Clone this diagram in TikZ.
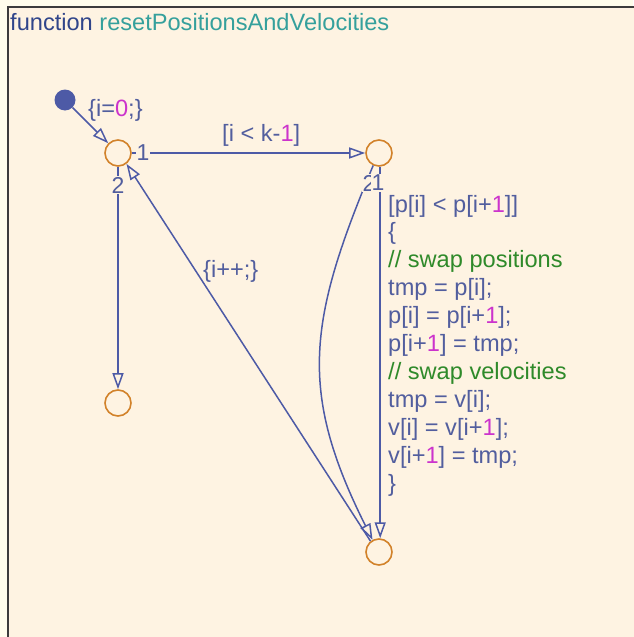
\documentclass[tikz,border=0pt]{standalone}
\usepackage{fontspec}
\setmainfont{Liberation Sans}
\usetikzlibrary{arrows.meta}
\definecolor{bgout}{HTML}{FFFDEC}
\definecolor{bgin}{HTML}{FEF3E2}
\definecolor{frame}{HTML}{3C3C3C}
\definecolor{navy}{HTML}{4D5AA6}
\definecolor{navytext}{HTML}{525E9E}
\definecolor{titlenavy}{HTML}{30458A}
\definecolor{teal}{HTML}{35A09C}
\definecolor{mag}{HTML}{CC33CC}
\definecolor{grn}{HTML}{2F8A2A}
\definecolor{orng}{HTML}{D2822A}
\newcommand\magn[1]{\textcolor{mag}{#1}}
\begin{document}
\begin{tikzpicture}[x=1pt,y=-1pt,
  junc/.style={circle,draw=orng,line width=1.6pt,fill=bgin,minimum size=26pt,inner sep=0pt},
  startdot/.style={circle,fill=navy,minimum size=21pt,inner sep=0pt},
  tr/.style={draw=navy,line width=1.5pt,-{Triangle[open,length=16pt,width=11pt]}},
  txt/.style={text=navytext,font=\fontsize{23.6}{27.9}\selectfont,inner sep=0pt,anchor=base west},
  ord/.style={text=navytext,font=\fontsize{23}{27.9}\selectfont,inner sep=0.6pt,fill=bgin}]
\useasboundingbox (0,0) rectangle (633,637);
\fill[bgout] (0,0) rectangle (633,637);
\filldraw[fill=bgin,draw=frame,line width=2.5pt] (8,7) rectangle (680,680);
\node[txt] (title) at (10,30) {\textcolor{titlenavy}{function} \textcolor{teal}{resetPositionsAndVelocities}};
% junctions
\node[junc] (A) at (118,153) {};
\node[junc] (B) at (379,153) {};
\node[junc] (C) at (118,403) {};
\node[junc] (D) at (379,552) {};
\node[startdot] (S) at (65,100) {};
% transitions
\draw[tr] (S) -- (A.135);
\draw[tr] (A.east) -- (B.west);
\draw[tr] (A.south) -- (C.north);
\draw[tr] (B.-85) -- (D.85);
\draw[tr] (B.-115) .. controls (308,321) and (298,391) .. (D.118);
\draw[tr] (D.128) -- (A.-52);
% execution order
\node[ord] (oA1) at (143,153) {1};
\node[ord] (oA2) at (118,185) {2};
\node[ord] (oB2) at (369,183) {2};
\node[ord] (oB1) at (378,183) {1};
% labels
\node[txt] (lS) at (88,116) {\{i=\magn{0};\}};
\node[txt] (lAB) at (222,141) {[i < k-\magn{1}]};
\node[txt] (lDA) at (203,277) {\{i++;\}};
\node[txt] (l1) at (388,212) {[p[i] < p[i+\magn{1}]]};
\node[txt] (l2) at (388,239.9) {\{};
\node[txt,text=grn] (l3) at (388,267.8) {// swap positions};
\node[txt] (l4) at (388,295.7) {tmp = p[i];};
\node[txt] (l5) at (388,323.6) {p[i] = p[i+\magn{1}];};
\node[txt] (l6) at (388,351.5) {p[i+\magn{1}] = tmp;};
\node[txt,text=grn] (l7) at (388,379.4) {// swap velocities};
\node[txt] (l8) at (388,407.3) {tmp = v[i];};
\node[txt] (l9) at (388,435.2) {v[i] = v[i+\magn{1}];};
\node[txt] (l10) at (388,463.1) {v[i+\magn{1}] = tmp;};
\node[txt] (l11) at (388,491) {\}};
\end{tikzpicture}
\end{document}
